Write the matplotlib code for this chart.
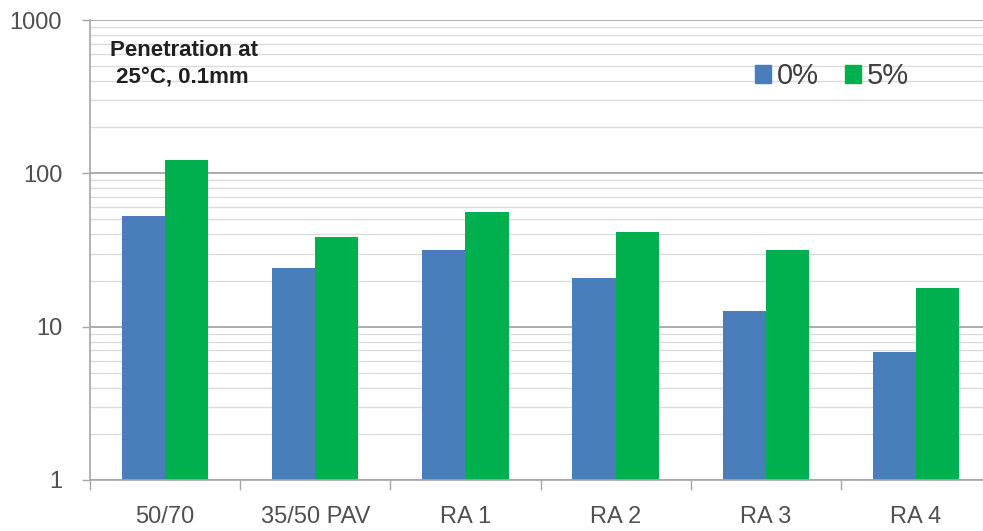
import matplotlib
matplotlib.use("Agg")
import matplotlib.pyplot as plt
import numpy as np
from matplotlib.patches import Patch
from matplotlib.ticker import LogLocator, NullFormatter, FixedLocator

# values (penetration at 25 C, 0.1 mm)
categories = ["50/70", "35/50 PAV", "RA 1", "RA 2", "RA 3", "RA 4"]
pen_0pct = [52.5, 24.0, 31.7, 20.8, 12.7, 6.8]
pen_5pct = [122, 38.5, 56, 41.5, 31.6, 17.9]
series_labels = ["0%", "5%"]

BLUE = "#4a7ebb"
GREEN = "#00b04f"
TXT = "#505050"

plt.rcParams["font.family"] = ["Liberation Sans", "DejaVu Sans"]

fig = plt.figure(figsize=(9.83, 5.31), dpi=100)
ax = fig.add_axes([90 / 983, 51 / 531, 901 / 983, 460 / 531])

x = np.arange(len(categories))
w = 0.287
ax.bar(x - w / 2, pen_0pct, width=w, color=BLUE, zorder=3)
ax.bar(x + w / 2, pen_5pct, width=w, color=GREEN, zorder=3)

ax.set_yscale("log")
ax.set_ylim(1, 1000)
ax.set_xlim(-0.5, len(categories) - 0.5)

# gridlines: dark at decades, light in between
ax.yaxis.set_major_locator(LogLocator(base=10, numticks=10))
ax.yaxis.set_minor_locator(LogLocator(base=10, subs=np.arange(2, 10), numticks=20))
ax.yaxis.set_minor_formatter(NullFormatter())
ax.grid(axis="y", which="major", color="#a6a6a6", lw=1.3, zorder=0)
ax.grid(axis="y", which="minor", color="#dcdcdc", lw=1.0, zorder=0)
ax.set_yticks([1, 10, 100, 1000])
ax.set_yticklabels(["1", "10", "100", "1000"])

# category labels at centres, separator ticks at boundaries
ax.set_xticks(x)
ax.set_xticklabels(categories)
ax.xaxis.set_minor_locator(FixedLocator(np.arange(-0.5, len(categories), 1.0)))
ax.tick_params(axis="x", which="major", length=0, pad=19, labelsize=17, labelcolor=TXT)
ax.tick_params(axis="x", which="minor", length=7, width=1, color="#a6a6a6", direction="out")
ax.tick_params(axis="y", which="major", length=6, width=1, color="#a6a6a6", pad=14,
               labelsize=17, labelcolor=TXT)
ax.tick_params(axis="y", which="minor", length=0)

for s in ("top", "right"):
    ax.spines[s].set_visible(False)
for s in ("left", "bottom"):
    ax.spines[s].set_color("#a6a6a6")
    ax.spines[s].set_linewidth(1.2)
ax.spines["bottom"].set_zorder(4)

ax.text(0.022, 0.905, "Penetration at\n 25°C, 0.1mm", transform=ax.transAxes,
        fontsize=16, fontweight="bold", color="#202020", va="center", ha="left",
        linespacing=1.35)

handles = [Patch(color=BLUE), Patch(color=GREEN)]
ax.legend(handles, series_labels, ncol=2, loc="center left", bbox_to_anchor=(0.738, 0.878),
          frameon=False, fontsize=21, labelcolor="#404040", handlelength=0.55, handleheight=0.55,
          handletextpad=0.2, columnspacing=0.9, borderpad=0, borderaxespad=0)

fig.savefig("out.png", dpi=100)
